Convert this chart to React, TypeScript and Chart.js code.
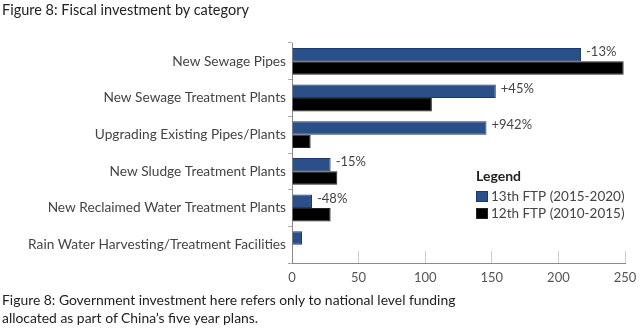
import React, { useEffect, useRef } from "react";
import { Chart, registerables } from "chart.js";

Chart.register(...registerables);

const categories = [
  "New Sewage Pipes",
  "New Sewage Treatment Plants",
  "Upgrading Existing Pipes/Plants",
  "New Sludge Treatment Plants",
  "New Reclaimed Water Treatment Plants",
  "Rain Water Harvesting/Treatment Facilities",
];
const ftp13 = [217, 153, 146, 29, 15, 7.5];
const ftp12 = [249, 105, 14, 34, 29, 0];
const changeLabels = ["-13%", "+45%", "+942%", "-15%", "-48%", ""];
const xTicks = [0, 50, 100, 150, 200, 250];
const seriesNames = ["13th FTP (2015-2020)", "12th FTP (2010-2015)"];
const titleText = "Figure 8: Fiscal investment by category";
const noteLines = [
  "Figure 8: Government investment here refers only to national level funding",
  "allocated as part of China\u2019s five year plans.",
];

const FONT = 'Lato, "Open Sans", sans-serif';
const BLUE = "#2b4f88";
const BLUE_BORDER = "#1b386a";

const changeLabelPlugin = {
  id: "changeLabels",
  afterDatasetsDraw(chart: any) {
    const ctx = chart.ctx;
    const meta = chart.getDatasetMeta(0);
    ctx.save();
    ctx.font = `13px ${FONT}`;
    ctx.fillStyle = "#444";
    ctx.textBaseline = "middle";
    ctx.textAlign = "left";
    meta.data.forEach((bar: any, i: number) => {
      const t = changeLabels[i];
      if (!t) return;
      const p = bar.getProps(["x", "y", "height"], true);
      ctx.fillText(t, p.x + 5, p.y - p.height / 2 + 4);
    });
    ctx.restore();
  },
};

const legendPlugin = {
  id: "boxLegend",
  afterDraw(chart: any) {
    const ctx = chart.ctx;
    const x0 = 476;
    ctx.save();
    ctx.textBaseline = "middle";
    ctx.textAlign = "left";
    ctx.font = `bold 14px ${FONT}`;
    ctx.fillStyle = "#222";
    ctx.fillText("Legend", x0, 176);
    ctx.font = `13.5px ${FONT}`;
    chart.data.datasets.forEach((ds: any, i: number) => {
      const y = 197 + i * 17;
      ctx.fillStyle = ds.backgroundColor;
      ctx.fillRect(x0, y - 6, 12, 11);
      ctx.strokeStyle = ds.borderColor;
      ctx.lineWidth = 1;
      ctx.strokeRect(x0 + 0.5, y - 5.5, 11, 10);
      ctx.fillStyle = "#444";
      ctx.fillText(ds.label, x0 + 15, y);
    });
    ctx.restore();
  },
};

export default function App() {
  const ref = useRef<HTMLCanvasElement | null>(null);

  useEffect(() => {
    if (!ref.current) return;
    Chart.defaults.font.family = FONT;
    const chart = new Chart(ref.current, {
      type: "bar",
      data: {
        labels: categories,
        datasets: [
          {
            label: seriesNames[0],
            data: ftp13,
            backgroundColor: BLUE,
            borderColor: BLUE_BORDER,
            borderWidth: 1,
            categoryPercentage: 0.73,
            barPercentage: 1,
          },
          {
            label: seriesNames[1],
            data: ftp12,
            backgroundColor: "#000000",
            borderColor: "#222222",
            borderWidth: 1,
            categoryPercentage: 0.73,
            barPercentage: 1,
          },
        ],
      },
      options: {
        indexAxis: "y",
        animation: false,
        responsive: false,
        maintainAspectRatio: false,
        layout: { padding: { top: 43, right: 15, bottom: 0, left: 0 } },
        plugins: {
          legend: { display: false },
          tooltip: { enabled: false },
          title: { display: false },
        },
        scales: {
          x: {
            type: "linear",
            min: 0,
            max: 250,
            afterBuildTicks: (s: any) => {
              s.ticks = xTicks.map((v) => ({ value: v }));
            },
            afterFit: (s: any) => {
              s.height = 66;
              s.paddingLeft = 0;
              s.paddingRight = 0;
            },
            grid: {
              drawOnChartArea: false,
              drawTicks: true,
              tickLength: -12,
              color: "#cccccc",
            },
            border: { display: true, color: "#8a8a8a", width: 1 },
            ticks: {
              padding: 19,
              color: "#555",
              font: { size: 13, family: FONT },
              maxRotation: 0,
            },
          },
          y: {
            type: "category",
            afterFit: (s: any) => {
              s.width = 292;
              s.paddingTop = 0;
              s.paddingBottom = 0;
            },
            grid: {
              offset: true,
              drawOnChartArea: false,
              drawTicks: true,
              tickLength: 4,
              color: "#aaaaaa",
            },
            border: { display: true, color: "#8a8a8a", width: 1 },
            ticks: {
              padding: 2,
              color: "#444",
              font: { size: 13.7, family: FONT },
            },
          },
        },
      },
      plugins: [changeLabelPlugin, legendPlugin],
    } as any);
    return () => chart.destroy();
  }, []);

  const textStyle: React.CSSProperties = {
    position: "absolute",
    left: 2,
    fontFamily: FONT,
    color: "#222",
    whiteSpace: "nowrap",
    lineHeight: "18px",
  };

  return (
    <div
      style={{
        position: "fixed",
        left: 0,
        top: 0,
        width: 640,
        height: 329,
        background: "#fff",
        overflow: "hidden",
      }}
    >
      <canvas
        ref={ref}
        width={640}
        height={329}
        style={{ position: "absolute", left: 0, top: 0, width: 640, height: 329 }}
      />
      <div style={{ ...textStyle, top: 1, fontSize: 14.5 }}>{titleText}</div>
      <div style={{ ...textStyle, top: 291, fontSize: 13.9 }}>
        {noteLines[0]}
        <br />
        {noteLines[1]}
      </div>
    </div>
  );
}
